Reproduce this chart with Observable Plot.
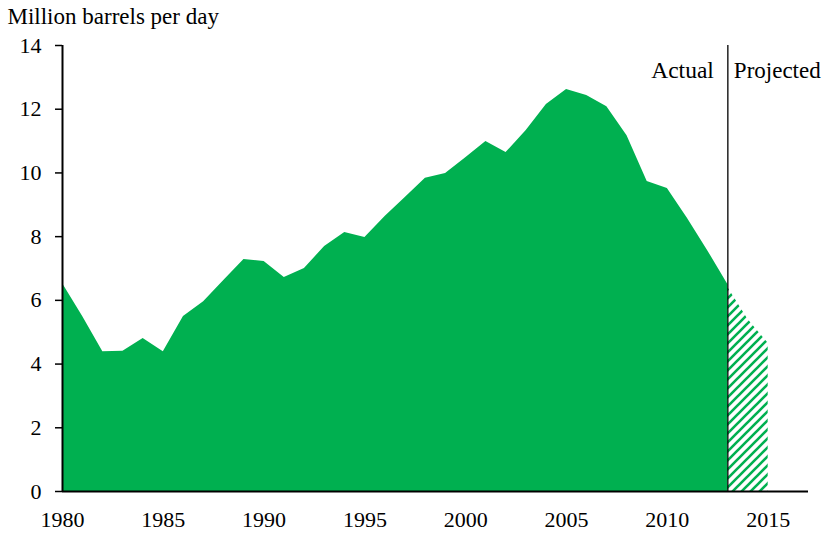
<!DOCTYPE html>
<html>
<head>
<meta charset="utf-8">
<script src="https://cdn.jsdelivr.net/npm/d3@7"></script>
<script src="https://cdn.jsdelivr.net/npm/@observablehq/plot@0.6"></script>
<style>
  html, body { margin: 0; padding: 0; background: #fff; }
  #chart { width: 826px; height: 534px; }
</style>
</head>
<body>
<div id="chart"></div>
<script>
// ---- Data ----
const actualYears = [1980, 1981, 1982, 1983, 1984, 1985, 1986, 1987, 1988, 1989,
  1990, 1991, 1992, 1993, 1994, 1995, 1996, 1997, 1998, 1999,
  2000, 2001, 2002, 2003, 2004, 2005, 2006, 2007, 2008, 2009,
  2010, 2011, 2012, 2013];
const actualValues = [6.53, 5.49, 4.39, 4.40, 4.80, 4.39, 5.49, 5.96, 6.62, 7.28,
  7.22, 6.72, 7.00, 7.69, 8.13, 7.97, 8.63, 9.23, 9.83, 9.98,
  10.48, 10.99, 10.64, 11.33, 12.15, 12.62, 12.43, 12.08, 11.17, 9.73,
  9.51, 8.57, 7.56, 6.50];
const projectedYears = [2013, 2014, 2015];
const projectedValues = [6.40, 5.40, 4.65];
const xTicks = [1980, 1985, 1990, 1995, 2000, 2005, 2010, 2015];
const yTicks = [0, 2, 4, 6, 8, 10, 12, 14];
const dividerYear = [2013];
const unitLabel = "Million barrels per day";
const actualLabel = "Actual";
const projectedLabel = "Projected";

const actual = actualYears.map((year, i) => ({year, value: actualValues[i]}));
const projected = projectedYears.map((year, i) => ({year, value: projectedValues[i]}));

const GREEN = "#00B050";
const FONT = "'Liberation Serif', 'Times New Roman', serif";

const chart = Plot.plot({
  width: 826,
  height: 534,
  marginLeft: 62,
  marginRight: 18,
  marginTop: 45,
  marginBottom: 43,
  style: {fontFamily: FONT, fontSize: "22px", background: "white", color: "black", overflow: "visible"},
  x: {domain: [1980, 2017]},
  y: {domain: [0, 14]},
  marks: [
    Plot.areaY(actual, {x: "year", y: "value", fill: GREEN}),
    Plot.areaY(projected, {x: "year", y: "value", fill: "url(#hatch)"}),
    Plot.ruleX(dividerYear, {y1: 0, y2: 14, stroke: "black", strokeWidth: 1.3}),
    Plot.ruleY([0], {stroke: "black", strokeWidth: 2}),
    Plot.ruleX([1980], {y1: 0, y2: 14, stroke: "black", strokeWidth: 2}),
    Plot.axisY({ticks: yTicks, tickSize: 7, tickPadding: 14, fontSize: 22, strokeWidth: 1.5, label: null, tickFormat: d => String(d)}),
    Plot.axisX({ticks: xTicks, tickSize: 0, tickPadding: 20, fontSize: 22, label: null, tickFormat: d => String(d)}),
    Plot.text(dividerYear, {x: d => d, y: () => 14, text: () => actualLabel, textAnchor: "end", dx: -14, dy: 25, fontSize: 23.5}),
    Plot.text(dividerYear, {x: d => d, y: () => 14, text: () => projectedLabel, textAnchor: "start", dx: 6, dy: 25, fontSize: 23}),
    Plot.text([unitLabel], {frameAnchor: "top-left", text: d => d, textAnchor: "start", lineAnchor: "top", dx: -55, dy: -38, fontSize: 23})
  ]
});

// hatch pattern for projected values
const svg = d3.select(chart);
const pattern = svg.insert("defs", ":first-child")
  .append("pattern")
  .attr("id", "hatch")
  .attr("patternUnits", "userSpaceOnUse")
  .attr("width", 9)
  .attr("height", 9);
pattern.append("path")
  .attr("d", "M-2,2 L2,-2 M0,9 L9,0 M7,11 L11,7")
  .attr("stroke", GREEN)
  .attr("stroke-width", 2.6)
  .attr("fill", "none");

document.getElementById("chart").appendChild(chart);
</script>
</body>
</html>
